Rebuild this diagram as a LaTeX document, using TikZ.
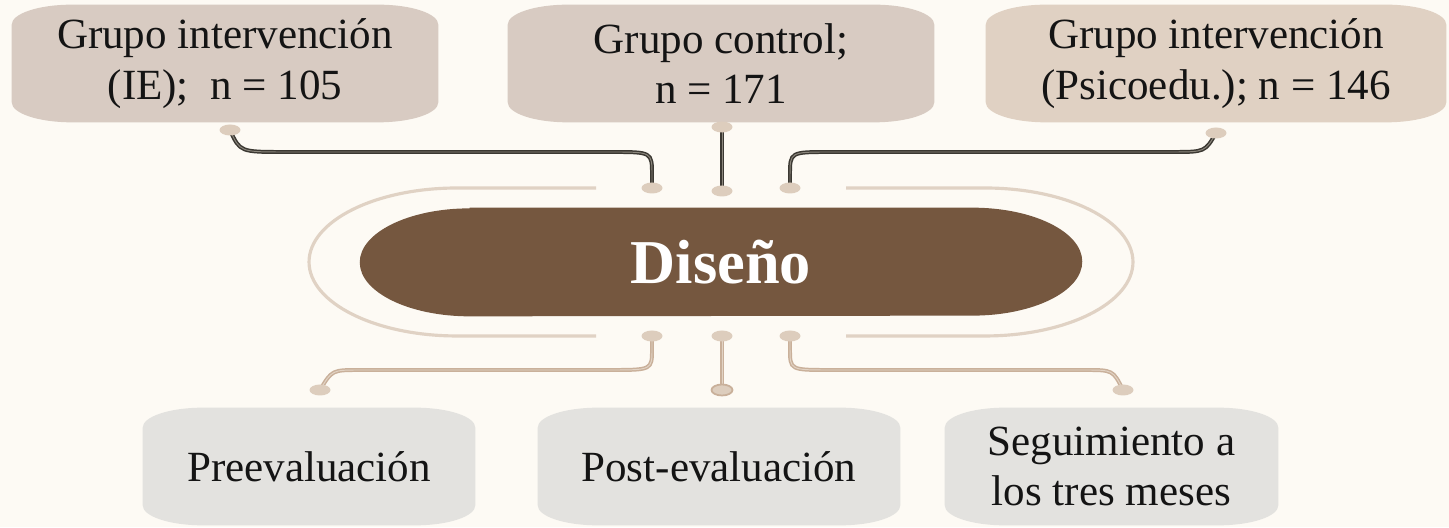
\documentclass[tikz,border=0pt]{standalone}
\usepackage{fontspec}
\setmainfont{Liberation Serif}
\usetikzlibrary{shapes.geometric,backgrounds,calc}
\definecolor{bgc}{HTML}{FDFAF4}
\definecolor{topa}{HTML}{D8CBC2}
\definecolor{topb}{HTML}{E0D1C3}
\definecolor{botc}{HTML}{E3E2DF}
\definecolor{pillc}{HTML}{75573F}
\definecolor{arcc}{HTML}{E0D2C4}
\definecolor{dotc}{HTML}{DDCDBD}
\definecolor{darkc}{HTML}{3B3832}
\definecolor{darkin}{HTML}{8C877D}
\definecolor{tanc}{HTML}{C9B09A}
\definecolor{tanin}{HTML}{E2D3C4}
\newcommand\softfill[2]{%
  \fill[#2] ($(#1.north west)+(60,0)$) -- ($(#1.north east)+(-60,0)$)
    arc[start angle=90,end angle=0,x radius=1.2cm,y radius=0.4cm]
    -- ($(#1.south east)+(0,20)$)
    arc[start angle=0,end angle=-90,x radius=1.2cm,y radius=0.4cm]
    -- ($(#1.south west)+(60,0)$)
    arc[start angle=270,end angle=180,x radius=1.2cm,y radius=0.4cm]
    -- ($(#1.north west)+(0,-20)$)
    arc[start angle=180,end angle=90,x radius=1.2cm,y radius=0.4cm] -- cycle;}
\begin{document}
\begin{tikzpicture}[x=0.02cm,y=0.02cm,
  txt/.style={align=center, font=\fontsize{24.5}{28.8}\selectfont, inner sep=0pt, text=black!92, minimum height=2.34cm},
  dot/.style={ellipse, fill=dotc, minimum width=0.42cm, minimum height=0.22cm, inner sep=0pt},
  topline/.style={draw=darkc, double=darkin, line width=0.85pt, double distance=0.55pt},
  botline/.style={draw=tanc, double=tanin, line width=0.85pt, double distance=0.55pt},
  arcline/.style={draw=arcc, line width=1.8pt}]
\useasboundingbox (0,0) rectangle (1449,527);
% nodes
\node[txt, minimum width=8.52cm] (g1) at (225,463.5) {Grupo intervención\\(IE);\ \ n = 105};
\node[txt, minimum width=8.52cm] (g2) at (721,463.5) {Grupo control;\\n = 171};
\node[txt, minimum width=9.2cm] (g3) at (1216,463.5) {Grupo intervención\\(Psicoedu.); n = 146};
\node[txt, minimum width=6.64cm] (b1) at (309,60.5) {Preevaluación};
\node[txt, minimum width=7.24cm] (b2) at (719,60.5) {Post-evaluación};
\node[txt, minimum width=6.66cm] (b3) at (1111.5,60.5) {Seguimiento a\\los tres meses};
\node[inner sep=0pt, minimum width=14.44cm, minimum height=2.16cm, text=white,
      font=\fontsize{35.5}{40}\selectfont\bfseries] (dis) at (721,265) {Diseño};
\begin{pgfonlayer}{background}
  \fill[bgc] (0,0) rectangle (1449,527);
  \softfill{g1}{topa}
  \softfill{g2}{topa}
  \softfill{g3}{topb}
  \softfill{b1}{botc}
  \softfill{b2}{botc}
  \softfill{b3}{botc}
  \fill[pillc] ($(dis.north west)+(110,0)$) -- ($(dis.north east)+(-110,0)$)
    arc[start angle=90,end angle=-90,x radius=2.2cm,y radius=1.08cm]
    -- ($(dis.south west)+(110,0)$)
    arc[start angle=270,end angle=90,x radius=2.2cm,y radius=1.08cm] -- cycle;
\end{pgfonlayer}
% outer arcs
\draw[arcline] (596,339) -- (457,339) arc[start angle=90,end angle=270,x radius=2.96cm,y radius=1.48cm] -- (596,191);
\draw[arcline] (846,339) -- (985,339) arc[start angle=90,end angle=-90,x radius=2.96cm,y radius=1.48cm] -- (846,191);
% dot coordinates
\coordinate (t1a) at (230,397);
\coordinate (t1b) at (652,339);
\coordinate (t2a) at (722,400);
\coordinate (t2b) at (722,336);
\coordinate (t3a) at (1216,394);
\coordinate (t3b) at (790,339);
\coordinate (u1a) at (652,191);
\coordinate (u2a) at (722,191);
\coordinate (u3a) at (790,191);
\coordinate (u1b) at (320,137);
\coordinate (u2b) at (722,137);
\coordinate (u3b) at (1123,137);
% connectors
\draw[topline] (t1a) .. controls (240,375) .. (285,375) -- (612,375) .. controls (652,375) .. (652,352) -- (t1b);
\draw[topline] (t2a) -- (t2b);
\draw[topline] (t3b) -- (790,352) .. controls (790,375) .. (830,375) -- (1172,375) .. controls (1205,375) .. (t3a);
\draw[botline] (u1a) -- (652,178) .. controls (652,157) .. (610,157) -- (360,157) .. controls (332,157) .. (u1b);
\draw[botline] (u2a) -- (u2b);
\draw[botline] (u3a) -- (790,178) .. controls (790,157) .. (830,157) -- (1085,157) .. controls (1113,157) .. (u3b);
% dots
\node[dot] (d1) at (t1a) {};
\node[dot] (d2) at (t1b) {};
\node[dot] (d3) at (t2a) {};
\node[dot] (d4) at (t2b) {};
\node[dot] (d5) at (t3a) {};
\node[dot] (d6) at (t3b) {};
\node[dot] (d7) at (u1a) {};
\node[dot] (d8) at (u2a) {};
\node[dot] (d9) at (u3a) {};
\node[dot] (d10) at (u1b) {};
\node[dot, draw=tanc, line width=1pt] (d11) at (u2b) {};
\node[dot] (d12) at (u3b) {};
\end{tikzpicture}
\end{document}
